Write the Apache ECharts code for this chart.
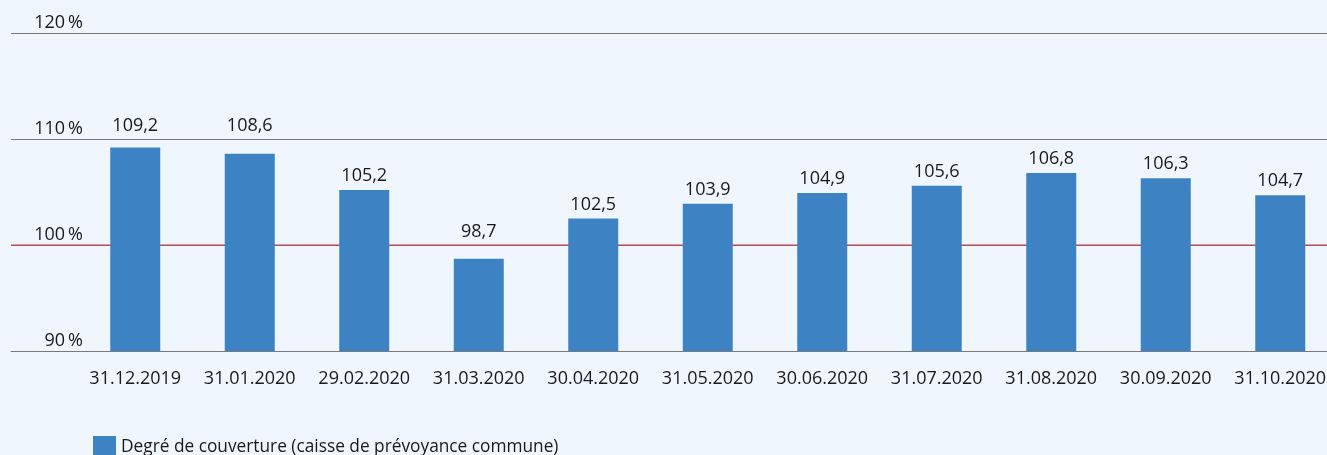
<!DOCTYPE html>
<html>
<head>
<meta charset="utf-8">
<title>Degré de couverture</title>
<script src="https://cdn.jsdelivr.net/npm/echarts@6/dist/echarts.min.js"></script>
</head>
<body style="margin:0px;background:#eff6fe;overflow:hidden;">
<div id="main" style="width:1340px;height:455px;"></div>
<script type="text/javascript">
var dates = ['31.12.2019','31.01.2020','29.02.2020','31.03.2020','30.04.2020','31.05.2020',
             '30.06.2020','31.07.2020','31.08.2020','30.09.2020','31.10.2020'];
var coverage = [109.2, 108.6, 105.2, 98.7, 102.5, 103.9, 104.9, 105.6, 106.8, 106.3, 104.7];
var yTicks = [90, 100, 110, 120];
var fullCoverage = 100;
var seriesName = 'Degré de couverture (caisse de prévoyance commune)';

var font = '"Open Sans", "Noto Sans", sans-serif';
var pxPerUnit = 318 / 30;

// labels that would sit on a gridline are lifted above it
function labelDistance(v) {
    for (var i = 0; i < yTicks.length; i++) {
        var g = yTicks[i];
        if (g > v && g - v < 2) return (g - v) * pxPerUnit + 4;
    }
    return 5;
}

var barData = coverage.map(function (v) {
    return { value: v, label: { distance: labelDistance(v) } };
});

var myChart = echarts.init(document.getElementById('main'));

myChart.setOption({
    backgroundColor: '#eff6fe',
    animation: false,
    textStyle: { fontFamily: font },
    grid: [
        // gridlines, full width of the picture
        { left: 11, right: 13, top: 33, bottom: 104 },
        // bars
        { left: 78, right: 2.5, top: 33, bottom: 104 }
    ],
    legend: {
        left: 88,
        top: 431,
        itemWidth: 23,
        itemHeight: 23,
        itemGap: 10,
        icon: 'rect',
        textStyle: { fontSize: 17.3, color: '#1a1a1a', fontFamily: font },
        data: [seriesName]
    },
    xAxis: [
        {
            gridIndex: 0, type: 'value', min: 0, max: 1,
            axisLine: { show: true, lineStyle: { color: '#7a7a7a', width: 1 } },
            axisTick: { show: false }, axisLabel: { show: false }, splitLine: { show: false }
        },
        {
            gridIndex: 1, type: 'category', data: dates,
            axisLine: { show: false }, axisTick: { show: false },
            axisLabel: { interval: 0, margin: 19, fontSize: 18, color: '#1a1a1a', fontFamily: font }
        }
    ],
    yAxis: [
        {
            gridIndex: 0, type: 'value', min: 90, max: 120, interval: 10,
            axisLine: { show: false }, axisTick: { show: false }, axisLabel: { show: false },
            splitLine: { show: true, lineStyle: { color: '#7a7a7a', width: 1 } }
        },
        {
            gridIndex: 1, type: 'value', min: 90, max: 120, interval: 10,
            axisLine: { show: false }, axisTick: { show: false }, splitLine: { show: false },
            axisLabel: {
                margin: -5, fontSize: 18, color: '#1a1a1a', fontFamily: font,
                verticalAlign: 'bottom', padding: [0, 0, 1, 0],
                formatter: function (v) { return v + '\u2009%'; }
            }
        }
    ],
    series: [
        {
            // red 100 % line across the full width
            type: 'line',
            xAxisIndex: 0,
            yAxisIndex: 0,
            data: [[0, fullCoverage], [1, fullCoverage]],
            silent: true,
            showSymbol: false,
            z: 3,
            lineStyle: { color: '#d6333d', width: 1 }
        },
        {
            name: seriesName,
            type: 'bar',
            xAxisIndex: 1,
            yAxisIndex: 1,
            data: barData,
            barWidth: 50,
            z: 4,
            itemStyle: { color: '#3d83c4' },
            label: {
                show: true, position: 'top',
                fontSize: 18, color: '#1a1a1a', fontFamily: font,
                formatter: function (p) { return p.value.toFixed(1).replace('.', ','); }
            }
        }
    ]
});
</script>
</body>
</html>
